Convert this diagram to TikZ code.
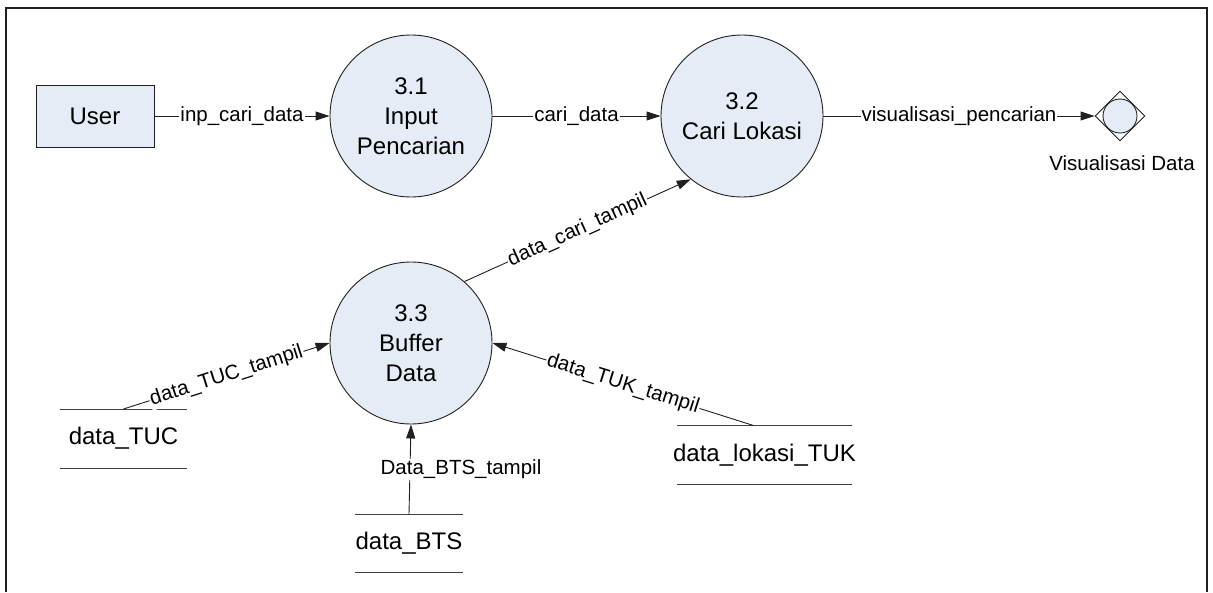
\documentclass[tikz,border=0pt]{standalone}
\usepackage{fontspec}
\setmainfont{Liberation Sans}
\usetikzlibrary{arrows.meta,shapes.geometric,calc}
\definecolor{procfill}{HTML}{E6ECF6}
\definecolor{linec}{HTML}{202020}
\tikzset{
  proc/.style={circle, draw=linec, line width=0.9pt, fill=procfill, minimum size=162pt, inner sep=0pt, align=center, font=\fontsize{24}{30}\selectfont},
  ent/.style={rectangle, draw=linec, line width=0.9pt, fill=procfill, minimum width=118pt, minimum height=62pt, font=\fontsize{24}{30}\selectfont},
  store/.style={inner sep=0pt, font=\fontsize{24}{30}\selectfont},
  storeline/.style={draw=linec!85, line width=0.9pt},
  flow/.style={draw=linec, line width=0.9pt, -{Triangle[length=14pt,width=9pt]}},
  flowlbl/.style={fill=white, inner sep=1pt, font=\fontsize{20.5}{24}\selectfont},
}
\begin{document}
\begin{tikzpicture}[x=1pt,y=-1pt]
\useasboundingbox (0,0) rectangle (1213,592);
\draw[line width=1.2pt, draw=linec] (6,592) -- (6,8) -- (1207,8) -- (1207,592);

\node[ent] (user) at (95,116) {User};
\node[proc] (c31) at (411,116) {3.1\\Input\\Pencarian};
\node[proc] (c32) at (742,116) {3.2\\Cari Lokasi};
\node[proc] (c33) at (411,343) {3.3\\Buffer\\Data};

\node[diamond, draw=linec, line width=0.9pt, fill=white, minimum width=50pt, minimum height=50pt, inner sep=0pt] (vis) at (1120,116) {};
\node[circle, draw=linec, line width=0.9pt, fill=procfill, minimum size=34pt, inner sep=0pt] (visc) at (vis.center) {};
\node[font=\fontsize{20.5}{24}\selectfont] (vislbl) at (1122,163) {Visualisasi Data};

\node[store] (tuc) at (123.5,438.5) {data\_TUC};
\node[store] (bts) at (409,543) {data\_BTS};
\node[store] (tuk) at (764.5,455) {data\_lokasi\_TUK};
\foreach \s/\w/\h in {tuc/127/59, bts/108/58, tuk/175/59}{
  \coordinate (\s-n) at ($(\s.center)+(0,-\h/2)$);
  \draw[storeline] ($(\s.center)+(-\w/2,-\h/2)$) -- +(\w,0);
  \draw[storeline] ($(\s.center)+(-\w/2,\h/2)$) -- +(\w,0);
}
\coordinate (tukout) at ($(tuk-n)+(-11,0)$);

\draw[flow] (user) -- node[flowlbl] {inp\_cari\_data} (c31);
\draw[flow] (c31) -- node[flowlbl] {cari\_data} (c32);
\draw[flow] (c32) -- node[flowlbl] {visualisasi\_pencarian} (vis);
\draw[flow] (c33.49) -- node[flowlbl, sloped] {data\_cari\_tampil} (c32.231);
\draw[flow] (tuc-n) -- node[flowlbl, sloped] {data\_TUC\_tampil} (c33.west);
\draw[flow] (bts-n) -- node[flowlbl, xshift=51pt] {Data\_BTS\_tampil} (c33.south);
\draw[flow] (tukout) -- node[flowlbl, sloped] {data\_TUK\_tampil} (c33.east);
\end{tikzpicture}
\end{document}
